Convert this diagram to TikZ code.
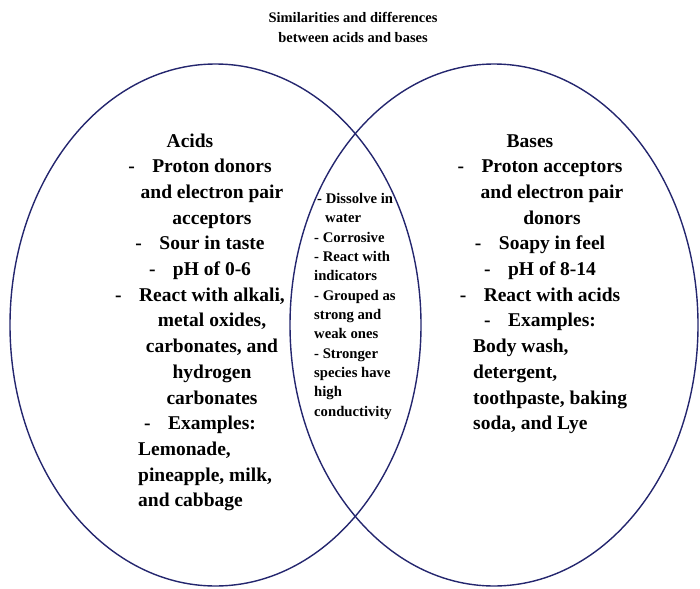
\documentclass[tikz,border=0pt]{standalone}
\usepackage{fontspec}
\setmainfont{Liberation Serif}
\usepackage{tikz}

\definecolor{vennblue}{RGB}{36,38,110}
\newcommand{\hangdash}{\llap{-\kern17.5pt}}

\begin{document}
\begin{tikzpicture}[x=1pt,y=-1pt,
	vennline/.style={draw=vennblue,line width=1.4pt},
	sidetext/.style={font=\fontsize{19.5}{25}\selectfont\bfseries,inner sep=0pt},
	midtext/.style={font=\fontsize{14.7}{19.35}\selectfont\bfseries,inner sep=0pt,align=left},
	titletext/.style={font=\fontsize{14.5}{20}\selectfont\bfseries,inner sep=0pt,align=center}]
		\useasboundingbox (0,0) rectangle (700,588);
		% the two sets
		\draw[vennline] (215.5,325) ellipse [x radius=205.5pt, y radius=261pt];
		\draw[vennline] (494,325) ellipse [x radius=204pt, y radius=261pt];
		\node[titletext,anchor=north] (title) at (353,12) {Similarities and differences\\between acids and bases};
		% acids
		\node[sidetext,anchor=base] (acid0) at (190,147) {Acids};
		\node[sidetext,anchor=base] (acid1) at (212,172.7) {\hangdash Proton donors};
		\node[sidetext,anchor=base] (acid2) at (212,198.4) {and electron pair};
		\node[sidetext,anchor=base] (acid3) at (212,224.1) {acceptors};
		\node[sidetext,anchor=base] (acid4) at (212,249.8) {\hangdash Sour in taste};
		\node[sidetext,anchor=base] (acid5) at (212,275.5) {\hangdash pH of 0-6};
		\node[sidetext,anchor=base] (acid6) at (212,301.2) {\hangdash React with alkali,};
		\node[sidetext,anchor=base] (acid7) at (212,326.9) {metal oxides,};
		\node[sidetext,anchor=base] (acid8) at (212,352.6) {carbonates, and};
		\node[sidetext,anchor=base] (acid9) at (212,378.3) {hydrogen};
		\node[sidetext,anchor=base] (acid10) at (212,404) {carbonates};
		\node[sidetext,anchor=base] (acid11) at (212,429.7) {\hangdash Examples:};
		\node[sidetext,anchor=base west] (acid12) at (138,455.4) {Lemonade,};
		\node[sidetext,anchor=base west] (acid13) at (138,481.1) {pineapple, milk,};
		\node[sidetext,anchor=base west] (acid14) at (138,506.8) {and cabbage};
		% bases
		\node[sidetext,anchor=base] (base0) at (530,147) {Bases};
		\node[sidetext,anchor=base] (base1) at (552,172.7) {\hangdash Proton acceptors};
		\node[sidetext,anchor=base] (base2) at (552,198.4) {and electron pair};
		\node[sidetext,anchor=base] (base3) at (552,224.1) {donors};
		\node[sidetext,anchor=base] (base4) at (552,249.8) {\hangdash Soapy in feel};
		\node[sidetext,anchor=base] (base5) at (552,275.5) {\hangdash pH of 8-14};
		\node[sidetext,anchor=base] (base6) at (552,301.2) {\hangdash React with acids};
		\node[sidetext,anchor=base] (base7) at (552,326.9) {\hangdash Examples:};
		\node[sidetext,anchor=base west] (base8) at (473,352.6) {Body wash,};
		\node[sidetext,anchor=base west] (base9) at (473,378.3) {detergent,};
		\node[sidetext,anchor=base west] (base10) at (473,404) {toothpaste, baking};
		\node[sidetext,anchor=base west] (base11) at (473,429.7) {soda, and Lye};
		% shared part
		\node[midtext,anchor=north west] (common) at (314,193) {\hspace*{3pt}- Dissolve in\\\hspace*{11pt}water\\- Corrosive\\- React with\\indicators\\- Grouped as\\strong and\\weak ones\\- Stronger\\species have\\high\\conductivity};
	\end{tikzpicture}
\end{document}
